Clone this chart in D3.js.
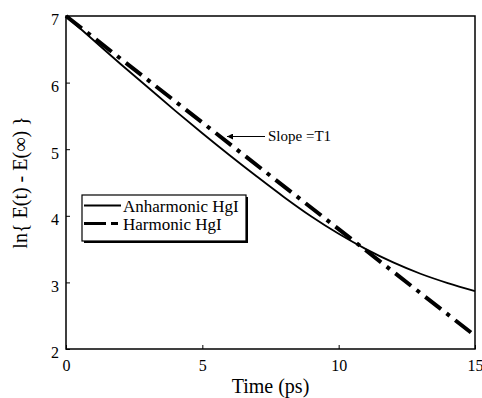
<!DOCTYPE html>
<html>
<head>
<meta charset="utf-8">
<script src="https://cdn.jsdelivr.net/npm/d3@7"></script>
<style>
  body { margin: 0; background: #fff; }
  svg text { font-family: "Liberation Serif", "DejaVu Serif", serif; fill: #000; }
</style>
</head>
<body>
<script>
// time axis (ps)
var times = [0, 1, 2, 3, 4, 5, 6, 7, 8, 9, 10, 11, 12, 13, 14, 15];
// anharmonic HgI
var anharmonic = [7.0, 6.64, 6.28, 5.93, 5.58, 5.24, 4.91, 4.59, 4.28, 3.99, 3.73, 3.50, 3.30, 3.13, 2.99, 2.87];
// harmonic HgI is a straight line
var harmonicTimes = [0, 15];
var harmonic = [7.0, 2.2];

var xTicks = [0, 5, 10, 15];
var yTicks = [2, 3, 4, 5, 6, 7];

var totalWidth = 482;
var totalHeight = 398;

var margins = {
  top: 16,
  bottom: 49,
  left: 66,
  right: 7
};

var plotWidth = totalWidth - margins.left - margins.right;
var plotHeight = totalHeight - margins.top - margins.bottom;

var serif = "'Liberation Serif', 'DejaVu Serif', serif";

var translation = function(x, y) {
  return "translate(" + x + "," + y + ")";
};

var scaleX = d3.scaleLinear()
  .domain([0, 15])
  .range([0, plotWidth]);

var scaleY = d3.scaleLinear()
  .domain([2, 7])
  .range([plotHeight, 0]);

var lineFunction = d3.line()
  .x(function(d) { return scaleX(d[0]); })
  .y(function(d) { return scaleY(d[1]); });

var svg = d3.select("body").append("svg")
  .attr("width", totalWidth)
  .attr("height", totalHeight)
  .attr("font-family", serif);

var g = svg.append("g")
  .attr("transform", translation(margins.left, margins.top));

// axes with small inward ticks
var xAxis = g.append("g")
  .attr("transform", translation(0, plotHeight))
  .call(d3.axisBottom(scaleX).tickValues(xTicks).tickFormat(d3.format("d"))
    .tickSizeInner(-4).tickSizeOuter(0).tickPadding(20));

var yAxis = g.append("g")
  .call(d3.axisLeft(scaleY).tickValues(yTicks).tickFormat(d3.format("d"))
    .tickSizeInner(-4).tickSizeOuter(0).tickPadding(7));

[xAxis, yAxis].forEach(function(a) {
  a.attr("font-family", serif).attr("font-size", 16);
  a.select(".domain").remove();
  a.selectAll("line").attr("stroke", "#000").attr("stroke-width", 1);
  a.selectAll("text").attr("fill", "#000");
});
yAxis.selectAll("text").attr("dy", "0.55em");
xAxis.selectAll("text").attr("dy", "0.1em");

// frame
g.append("rect")
  .attr("width", plotWidth)
  .attr("height", plotHeight)
  .attr("fill", "none")
  .attr("stroke", "#000")
  .attr("stroke-width", 1.5);

// curves
g.append("path")
  .datum(times.map(function(t, i) { return [t, anharmonic[i]]; }))
  .attr("d", d3.line().curve(d3.curveMonotoneX)
    .x(function(d) { return scaleX(d[0]); })
    .y(function(d) { return scaleY(d[1]); }))
  .attr("fill", "none")
  .attr("stroke", "#000")
  .attr("stroke-width", 1.8);

g.append("path")
  .datum(harmonicTimes.map(function(t, i) { return [t, harmonic[i]]; }))
  .attr("d", lineFunction)
  .attr("fill", "none")
  .attr("stroke", "#000")
  .attr("stroke-width", 4)
  .attr("stroke-dasharray", "20,7,4,7");

// annotation
var defs = svg.append("defs");
defs.append("marker")
  .attr("id", "arrow")
  .attr("viewBox", "0 0 10 10")
  .attr("refX", 10)
  .attr("refY", 5)
  .attr("markerWidth", 8)
  .attr("markerHeight", 6)
  .attr("markerUnits", "userSpaceOnUse")
  .attr("orient", "auto")
  .append("path")
  .attr("d", "M0,0 L10,5 L0,10 Z")
  .attr("fill", "#000");

svg.append("line")
  .attr("x1", 265).attr("y1", 136.5)
  .attr("x2", 227).attr("y2", 136.5)
  .attr("stroke", "#000")
  .attr("stroke-width", 1)
  .attr("marker-end", "url(#arrow)");

svg.append("text")
  .attr("x", 268)
  .attr("y", 141)
  .style("font-size", "15px")
  .text("Slope =T1");

// legend
var legend = svg.append("g").attr("transform", translation(82, 195));
legend.append("rect")
  .attr("x", 2).attr("y", 2)
  .attr("width", 164).attr("height", 46)
  .attr("fill", "#000");
legend.append("rect")
  .attr("width", 164).attr("height", 46)
  .attr("fill", "#fff")
  .attr("stroke", "#000")
  .attr("stroke-width", 1.2);

legend.append("line")
  .attr("x1", 2).attr("x2", 39)
  .attr("y1", 10.5).attr("y2", 10.5)
  .attr("stroke", "#000").attr("stroke-width", 1.8);
legend.append("text")
  .attr("x", 41).attr("y", 17)
  .style("font-size", "17px")
  .text("Anharmonic HgI");

legend.append("line")
  .attr("x1", 2).attr("x2", 39)
  .attr("y1", 28.5).attr("y2", 28.5)
  .attr("stroke", "#000").attr("stroke-width", 3)
  .attr("stroke-dasharray", "22,5,7,5");
legend.append("text")
  .attr("x", 41).attr("y", 35)
  .style("font-size", "17px")
  .text("Harmonic HgI");

// axis titles
svg.append("text")
  .attr("x", margins.left + plotWidth / 2)
  .attr("y", 393)
  .style("text-anchor", "middle")
  .style("font-size", "20px")
  .text("Time (ps)");

svg.append("text")
  .attr("transform", "rotate(-90)")
  .attr("x", -(margins.top + plotHeight / 2))
  .attr("y", 27)
  .style("text-anchor", "middle")
  .style("font-size", "20px")
  .attr("xml:space", "preserve")
  .text("ln{ E(t) - E(\u221E) }");
</script>
</body>
</html>
